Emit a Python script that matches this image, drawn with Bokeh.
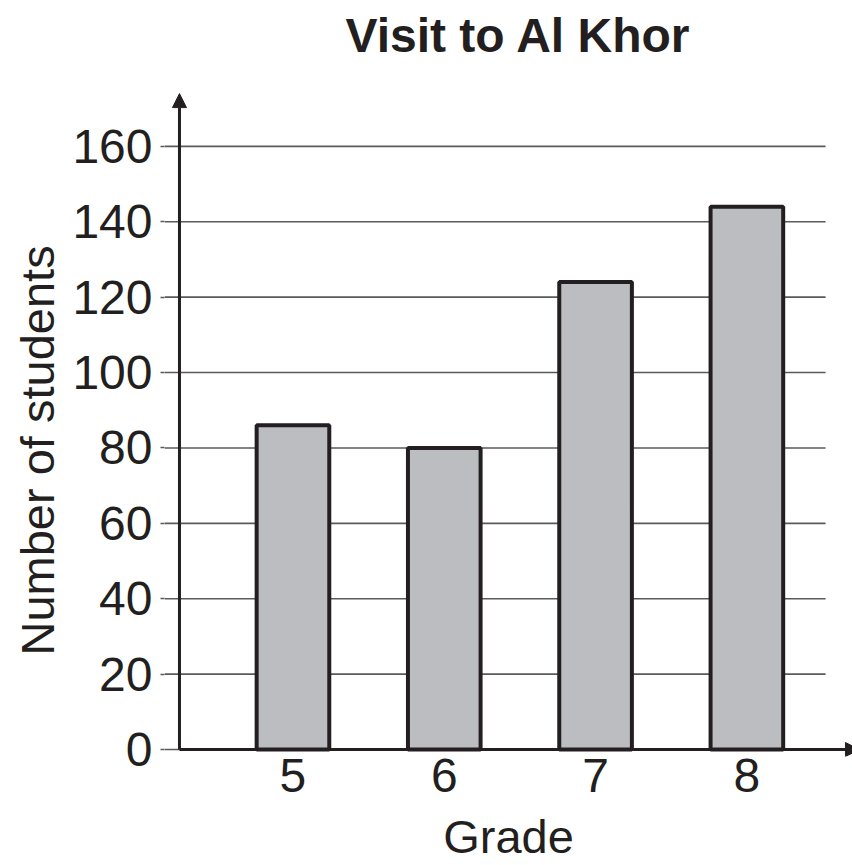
from bokeh.plotting import figure
from bokeh.models import Range1d, FixedTicker, Arrow, NormalHead, ColumnDataSource, Title
from bokeh.embed import file_html
from bokeh.resources import INLINE

# Students on the trip, by grade
grades = [5, 6, 7, 8]
students = [86, 80, 124, 144]
y_ticks = [0, 20, 40, 60, 80, 100, 120, 140, 160]

FONT = "Liberation Sans"
INK = "#231f20"
GRID = "#5a5a5a"
BAR_FILL = "#bcbdc0"

# axis origin and arrow tip positions (data units)
x_axis_at = 4.25
x_arrow_tip = 8.744
y_arrow_top = 174
grid_end = 8.52

# frame a little larger than the axes so the arrowheads are not cut off
x_start, x_end = 4.151, 8.698
y_start, y_end = -1.854, 180.93

p = figure(
    width=852, height=865,
    x_range=Range1d(x_start, x_end), y_range=Range1d(y_start, y_end),
    output_backend="svg", toolbar_location=None,
    min_border_left=164, min_border_right=0,
    min_border_top=66, min_border_bottom=109,
    title="Visit to Al Khor",
)
p.outline_line_color = None
p.background_fill_color = "white"
p.border_fill_color = "white"

p.title.text_font = FONT
p.title.text_font_size = "48px"
p.title.text_font_style = "bold"
p.title.text_color = INK
p.title.align = "left"
p.title.offset = 181
p.title.standoff = 12

p.xgrid.visible = False
p.ygrid.visible = False

# horizontal gridlines, stopping short of the x-axis arrow
grid_src = ColumnDataSource(dict(
    x0=[x_start] * len(y_ticks), x1=[grid_end] * len(y_ticks),
    y=y_ticks,
))
p.segment(x0="x0", y0="y", x1="x1", y1="y", source=grid_src,
          line_color=GRID, line_width=1.6)

# bars
src = ColumnDataSource(dict(grade=grades, students=students))
p.vbar(x="grade", top="students", width=0.48, source=src,
       fill_color=BAR_FILL, line_color=INK, line_width=4)

# axes drawn as arrows
head = dict(size=14, fill_color=INK, line_color=INK, line_width=1)
p.add_layout(Arrow(x_start=x_axis_at, y_start=0, x_end=x_arrow_tip, y_end=0,
                   line_color=INK, line_width=3, end=NormalHead(**head)))
p.add_layout(Arrow(x_start=x_axis_at, y_start=0, x_end=x_axis_at, y_end=y_arrow_top,
                   line_color=INK, line_width=3, end=NormalHead(**head)))

# y axis
ya = p.yaxis[0]
ya.ticker = FixedTicker(ticks=y_ticks)
ya.axis_line_color = None
ya.major_tick_out = 4
ya.major_tick_in = 0
ya.major_tick_line_color = GRID
ya.major_tick_line_width = 1.6
ya.minor_tick_line_color = None
ya.major_label_text_font = FONT
ya.major_label_text_font_size = "48px"
ya.major_label_text_color = INK
ya.major_label_standoff = 8

# y-axis title, set in the left panel so it can sit lower than the frame centre
p.add_layout(Title(text="Number of students", align="left", offset=101,
                   standoff=12, text_font=FONT, text_font_size="47px",
                   text_font_style="normal", text_color=INK), "left")

# x axis
xa = p.xaxis[0]
xa.ticker = FixedTicker(ticks=grades)
xa.axis_line_color = None
xa.major_tick_line_color = None
xa.major_tick_out = 0
xa.major_tick_in = 0
xa.minor_tick_line_color = None
xa.major_label_text_font = FONT
xa.major_label_text_font_size = "48px"
xa.major_label_text_color = INK
xa.major_label_standoff = 2
xa.axis_label = "Grade"
xa.axis_label_text_font = FONT
xa.axis_label_text_font_size = "47px"
xa.axis_label_text_font_style = "normal"
xa.axis_label_text_color = INK
xa.axis_label_standoff = 15

open("out.html", "w").write(file_html(p, INLINE))
